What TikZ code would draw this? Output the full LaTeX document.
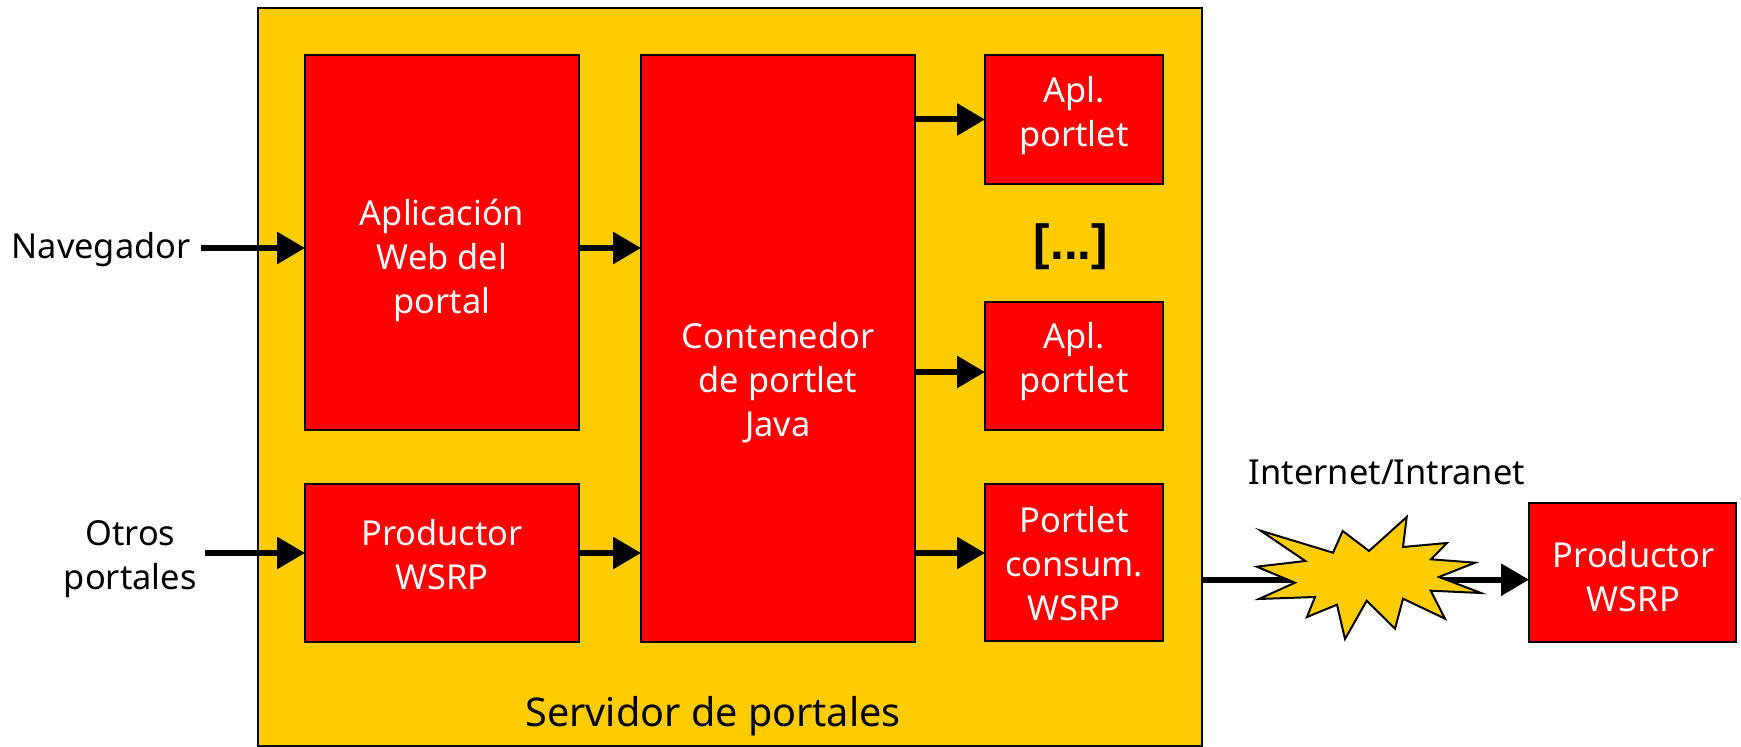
\documentclass[tikz,border=0pt]{standalone}
\usepackage{fontspec}
\setmainfont{Noto Sans}
\newfontfamily\negrita{Liberation Sans}
\usepackage{xcolor}
\usetikzlibrary{positioning,arrows.meta}
\definecolor{oro}{HTML}{FFCC00}
\definecolor{rojo}{HTML}{FF0000}
\tikzset{
  caja/.style={draw=black,line width=1pt,fill=rojo,anchor=north west,inner sep=0pt},
  rotulo/.style={font=\fontsize{17.2}{22}\selectfont,align=center,inner sep=0pt},
  blanco/.style={rotulo,text=white},
  flecha/.style={line width=3pt,shorten >=-.5pt,-{Triangle[length=14pt,width=15.5pt]}}
}
\begin{document}
\begin{tikzpicture}[x=.5pt,y=-.5pt]
    \useasboundingbox (0,0) rectangle (1741,747);
    \node[caja,fill=oro,minimum width=472pt,minimum height=369pt] (servidor) at (256.5,7) {};
    \node[rotulo,font=\fontsize{19.8}{22}\selectfont] (servidortxt) at (713,716) {Servidor de portales};
    % cajas rojas
    \node[caja,minimum width=137pt,minimum height=187.5pt] (aplic) at (304,54) {};
    \node[caja,minimum width=137pt,minimum height=79pt] (prodint) at (304,483) {};
    \node[caja,minimum width=137pt,minimum height=293.5pt] (conten) at (640,54) {};
    \node[caja,minimum width=89pt,minimum height=64.5pt] (aplA) at (984,54) {};
    \node[caja,minimum width=89pt,minimum height=64pt] (aplB) at (984,301) {};
    \node[caja,minimum width=89pt,minimum height=78.5pt] (consum) at (984,483) {};
    \node[caja,minimum width=103.5pt,minimum height=69.5pt] (prodext) at (1528,502) {};
    \node[blanco] (aplictxt) at ([yshift=-9pt]aplic) {Aplicación\\Web del\\portal};
    \node[blanco] (prodinttxt) at ([yshift=4pt]prodint) {Productor\\WSRP};
    \node[blanco] (contentxt) at ([yshift=-17pt]conten) {Contenedor\\de portlet\\Java};
    \node[blanco] (aplAtxt) at ([yshift=2pt]aplA) {Apl.\\portlet};
    \node[blanco] (aplBtxt) at ([yshift=2pt]aplB) {Apl.\\portlet};
    \node[blanco] (consumtxt) at ([yshift=-.5pt]consum) {Portlet\\consum.\\WSRP};
    \node[blanco] (prodexttxt) at ([xshift=.5pt,yshift=-2pt]prodext) {Productor\\WSRP};
    \node[rotulo,font=\fontsize{24.7}{24}\negrita\bfseries] (puntos) at (1071,247) {[...]};
    % entradas
    \node[rotulo,anchor=east,inner xsep=5pt] (naveg) at (201,250) {Navegador};
    \node[rotulo,anchor=east,inner xsep=4pt] (otros) at (205,559) {Otros\\portales};
    \node[rotulo] (red) at (1387,472) {Internet/Intranet};
    \coordinate (alturaN) at (0,248);
    \coordinate (alturaO) at (0,553);
    \coordinate (alturaB) at (0,372);
    \coordinate (nube) at (1370,579.7);
    % flechas
    \draw[flecha] (naveg.east |- alturaN) -- (aplic.west |- alturaN);
    \draw[flecha] (otros.east |- alturaO) -- (prodint.west |- alturaO);
    \draw[flecha] (aplic.east |- alturaN) -- (conten.west |- alturaN);
    \draw[flecha] (prodint.east |- alturaO) -- (conten.west |- alturaO);
    \draw[flecha] (conten.east |- aplA.west) -- (aplA.west);
    \draw[flecha] (conten.east |- alturaB) -- (aplB.west |- alturaB);
    \draw[flecha] (conten.east |- alturaO) -- (consum.west |- alturaO);
    \draw[line width=3pt] (servidor.east |- nube) -- (nube);
    \draw[flecha] (nube) -- (prodext.west |- nube);
    % la nube
    \draw[line width=1pt,fill=oro] (1260.7,530.7) -- (1333,552.7) -- (1342.7,531) -- (1369,551)
      -- (1406.7,517) -- (1403,547) -- (1447,543) -- (1431,559.3) -- (1475,562.7)
      -- (1439,577) -- (1481,593) -- (1430.7,590.7) -- (1445,618.7) -- (1403,598.7)
      -- (1395,628.7) -- (1366.7,600.7) -- (1345,639) -- (1337,604.7) -- (1307,617)
      -- (1315,597) -- (1259,599) -- (1295,582.7) -- (1256.7,566.7) -- (1305.3,561) -- cycle;
\end{tikzpicture}
\end{document}
